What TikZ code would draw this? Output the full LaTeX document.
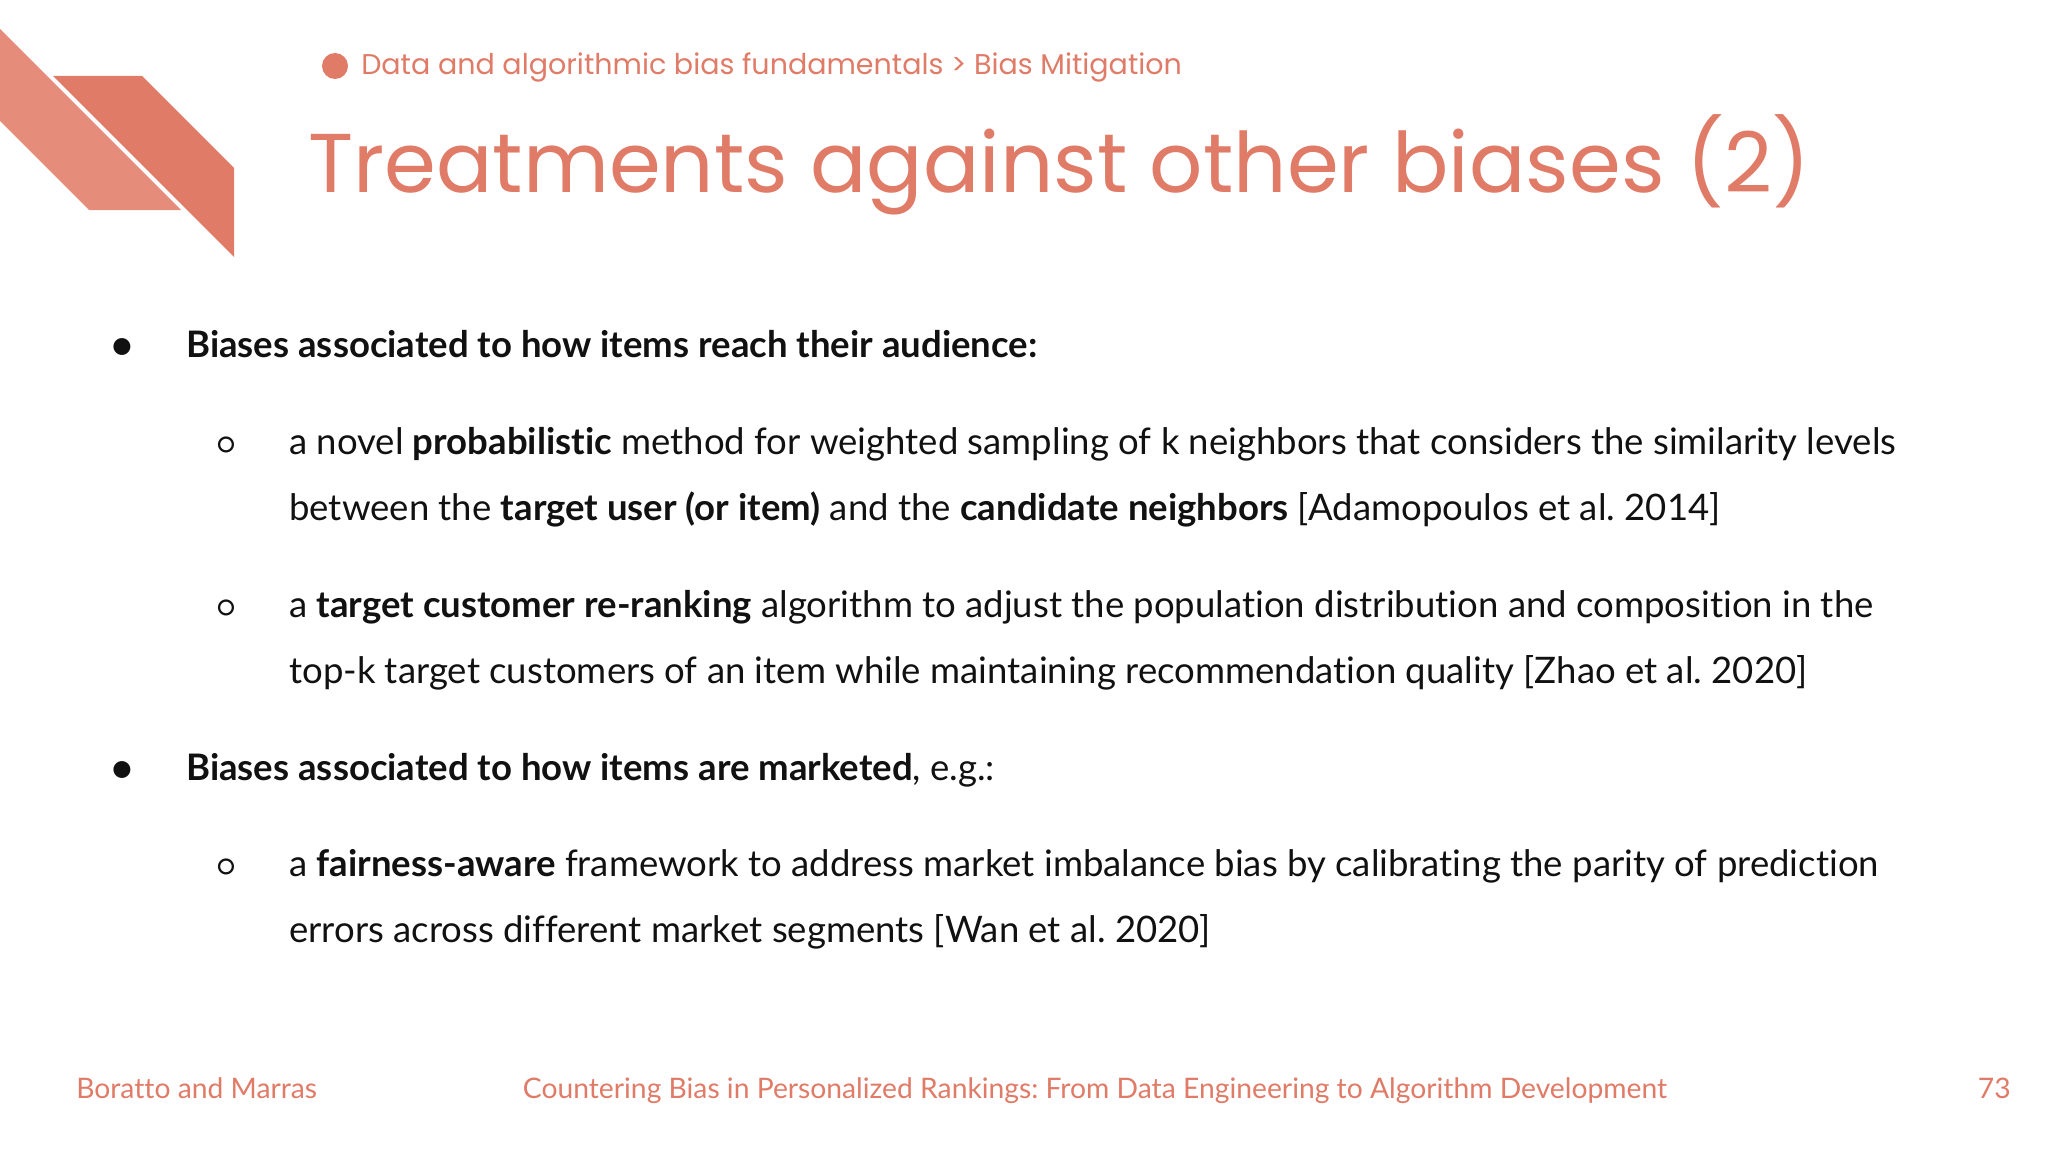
\documentclass[tikz,border=0pt]{standalone}
\usepackage{fontspec}
\setmainfont{Lato}[RawFeature=-liga]
\newfontfamily\titlefont{Poppins}
\definecolor{salmon}{HTML}{E07B67}
\definecolor{salmonlight}{HTML}{E58C7A}
\definecolor{ink}{HTML}{111111}
\frenchspacing
\begin{document}
\begin{tikzpicture}[x=0.75pt,y=-0.75pt,
  body/.style={anchor=base west,inner sep=0pt,font=\fontsize{27.4}{33}\selectfont,text=ink},
  foot/.style={inner sep=0pt,font=\fontsize{21.2}{25}\selectfont,text=salmon},
  lvl1/.style={anchor=base,inner sep=0pt,font=\fontsize{26}{30}\selectfont,text=ink},
  lvl2/.style={anchor=base,inner sep=0pt,font=\fontsize{22}{26}\selectfont,text=ink}]
\useasboundingbox[fill=white] (0,0) rectangle (2048,1152);
% decoration
\fill[salmonlight] (0,29) -- (0,121) -- (89,210) -- (181,210) -- cycle;
\fill[salmon] (53,76) -- (142,76) -- (234,168) -- (234,257) -- cycle;
% breadcrumb
\fill[salmon] (335,66) circle (13);
\node[anchor=base west,inner sep=0pt,text=salmon,font=\titlefont\fontsize{21.4}{25}\selectfont] (crumb) at (361,75) {Data and algorithmic bias fundamentals > Bias Mitigation};
\node[anchor=base west,inner sep=0pt,text=salmon,font=\titlefont\fontsize{62.6}{75}\selectfont] (title) at (308,193) {Treatments against other biases (2)};
% bullets
\node[lvl1] (b1) at (122,357) {●};
\node[body] (t1) at (186,357) {\textbf{Biases associated to how items reach their audience:}};
\node[lvl2] (c1) at (226,454) {○};
\node[body] (t2) at (289,454) {a novel \textbf{probabilistic} method for weighted sampling of k neighbors that considers the similarity levels};
\node[body] (t3) at (289,520) {between the \textbf{target user (or item)} and the \textbf{candidate neighbors} [Adamopoulos et al. 2014]};
\node[lvl2] (c2) at (226,617) {○};
\node[body] (t4) at (289,617) {a \textbf{target customer re-ranking} algorithm to adjust the population distribution and composition in the};
\node[body] (t5) at (289,683) {top-k target customers of an item while maintaining recommendation quality [Zhao et al. 2020]};
\node[lvl1] (b2) at (122,780) {●};
\node[body] (t6) at (186,780) {\textbf{Biases associated to how items are marketed}, e.g.:};
\node[lvl2] (c3) at (226,876) {○};
\node[body] (t7) at (289,876) {a \textbf{fairness-aware} framework to address market imbalance bias by calibrating the parity of prediction};
\node[body] (t8) at (289,942) {errors across different market segments [Wan et al. 2020]};
% footer
\node[foot,anchor=base west] (f1) at (76,1098) {Boratto and Marras};
\node[foot,anchor=base] (f2) at (1095,1098) {Countering Bias in Personalized Rankings: From Data Engineering to Algorithm Development};
\node[foot,anchor=base east] (f3) at (2011,1098) {73};
\end{tikzpicture}
\end{document}
